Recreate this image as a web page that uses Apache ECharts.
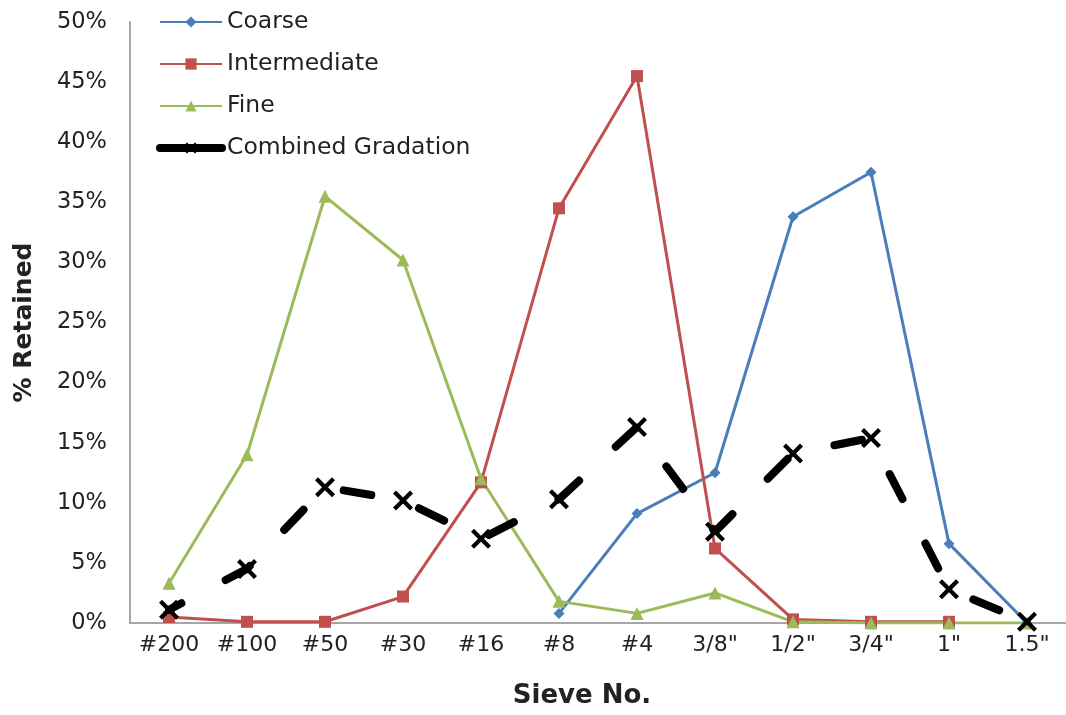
<!DOCTYPE html>
<html>
<head>
<meta charset="utf-8">
<script src="https://cdn.jsdelivr.net/npm/echarts@6/dist/echarts.min.js"></script>
<style>
  html, body { margin: 0; padding: 0; background: #fff; }
  #chart { width: 1066px; height: 715px; }
</style>
</head>
<body>
<div id="chart"></div>
<script>
// Sieve sizes, finest to coarsest
const sieves = ['#200', '#100', '#50', '#30', '#16', '#8', '#4', '3/8"', '1/2"', '3/4"', '1"', '1.5"'];

// Percent retained on each sieve
const coarse       = [null, null, null, null, null, 0.8, 9.1, 12.5, 33.8, 37.5, 6.6, 0.0];
const intermediate = [0.5, 0.1, 0.1, 2.2, 11.7, 34.5, 45.5, 6.2, 0.3, 0.1, 0.1, null];
const fine         = [3.3, 14.0, 35.5, 30.2, 12.0, 1.8, 0.8, 2.5, 0.1, 0.0, 0.0, 0.0];
const combined     = [1.1, 4.5, 11.3, 10.2, 7.0, 10.3, 16.3, 7.6, 14.1, 15.4, 2.8, 0.1];

const yTicks = { min: 0, max: 50, step: 5 };

const FONT = '"DejaVu Sans", Verdana, sans-serif';
const TEXT = '#222222';
// heavy "x" marker for the combined curve
const CROSS = 'path://M3,0 L10,7 L17,0 L20,3 L13,10 L20,17 L17,20 L10,13 L3,20 L0,17 L7,10 L0,3 Z';

const chart = echarts.init(document.getElementById('chart'), null, { renderer: 'canvas' });

chart.setOption({
  animation: false,
  backgroundColor: '#ffffff',
  textStyle: { fontFamily: FONT, color: TEXT },
  grid: { left: 130, right: -6, top: 22, bottom: 92, containLabel: false },
  legend: {
    orient: 'vertical',
    left: 151,
    top: 5,
    itemWidth: 62,
    itemHeight: 14,
    itemGap: 18,
    textStyle: { fontFamily: FONT, fontSize: 23.5, color: TEXT },
    data: [
      'Coarse',
      'Intermediate',
      'Fine',
      { name: 'Combined Gradation', lineStyle: { type: 'solid', width: 8, cap: 'round' } }
    ]
  },
  xAxis: {
    type: 'category',
    data: sieves,
    boundaryGap: true,
    axisLine: { lineStyle: { color: '#a6a6a6', width: 2 } },
    axisTick: { show: false },
    axisLabel: { interval: 0, fontFamily: FONT, fontSize: 22, color: TEXT, margin: 11 },
    name: 'Sieve No.',
    nameLocation: 'middle',
    nameGap: 60,
    nameTextStyle: { fontFamily: FONT, fontSize: 26, fontWeight: 'bold', color: TEXT, padding: [0, 32, 0, 0] }
  },
  yAxis: {
    type: 'value',
    min: yTicks.min,
    max: yTicks.max,
    interval: yTicks.step,
    splitLine: { show: false },
    axisLine: { show: true, lineStyle: { color: '#a6a6a6', width: 2 } },
    axisTick: { show: false },
    axisLabel: { fontFamily: FONT, fontSize: 22.5, color: TEXT, margin: 23, formatter: v => v + '%' },
    name: '% Retained',
    nameLocation: 'middle',
    nameGap: 93,
    nameTextStyle: { fontFamily: FONT, fontSize: 25, fontWeight: 'bold', color: TEXT }
  },
  series: [
    {
      name: 'Coarse', type: 'line', data: coarse,
      color: '#4a7ebb',
      lineStyle: { width: 3 },
      symbol: 'diamond', symbolSize: 11, showAllSymbol: true
    },
    {
      name: 'Intermediate', type: 'line', data: intermediate,
      color: '#c0504d',
      lineStyle: { width: 3 },
      symbol: 'rect', symbolSize: 12, showAllSymbol: true
    },
    {
      name: 'Fine', type: 'line', data: fine,
      color: '#9bbb59',
      lineStyle: { width: 3 },
      symbol: 'triangle', symbolSize: 13, showAllSymbol: true
    },
    {
      name: 'Combined Gradation', type: 'line', data: combined,
      color: '#000000',
      lineStyle: { width: 8, type: [28, 50], dashOffset: 14, cap: 'round' },
      symbol: CROSS, symbolSize: 20, showAllSymbol: true,
      z: 5
    }
  ]
});
</script>
</body>
</html>
